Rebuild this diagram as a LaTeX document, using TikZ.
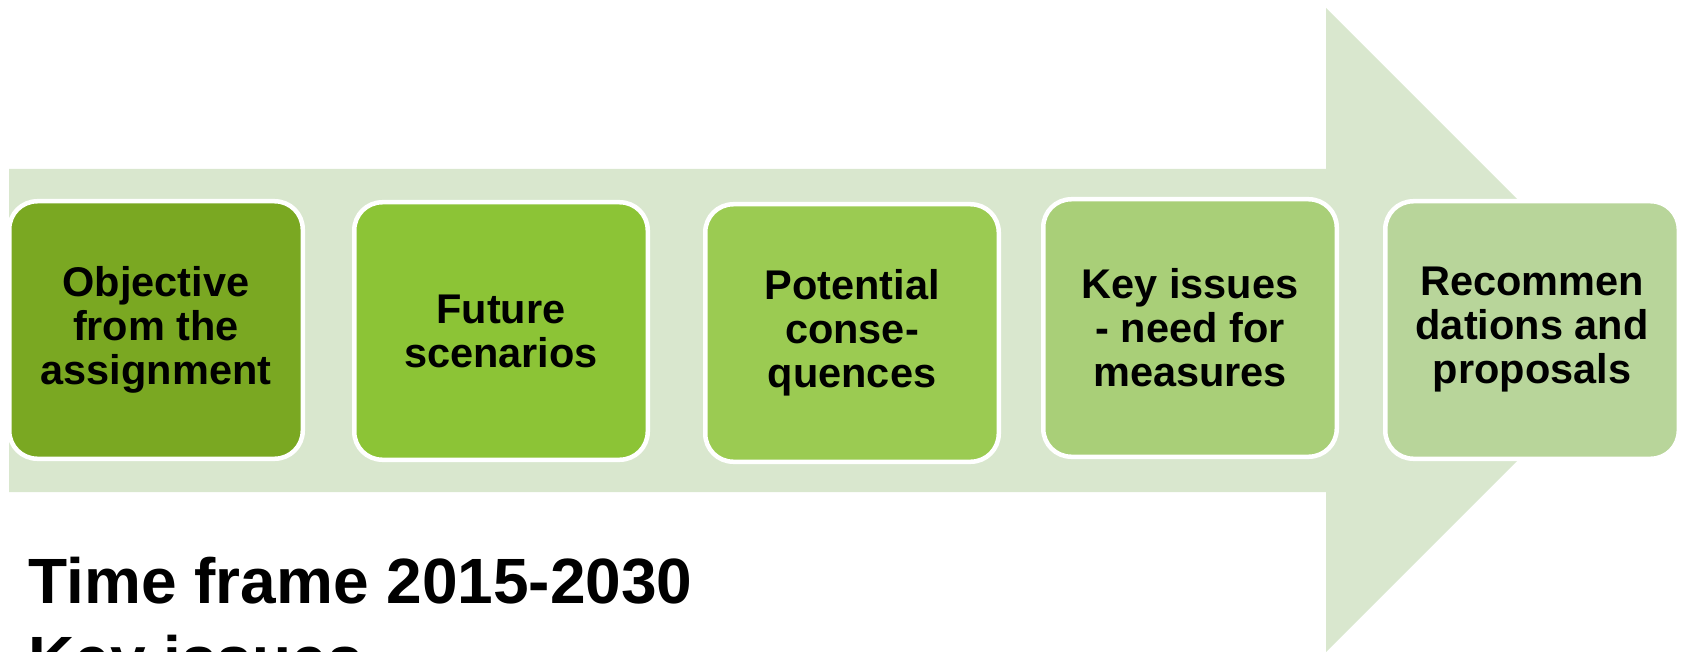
\documentclass[tikz,border=0pt]{standalone}
\usepackage{fontspec}
\setmainfont{Liberation Sans}
\usepackage{xcolor}
\usepackage{tikz}
\usetikzlibrary{calc,arrows.meta}

\definecolor{arrowbg}{RGB}{217,231,206}
\definecolor{stepA}{RGB}{122,168,34}
\definecolor{stepB}{RGB}{140,196,54}
\definecolor{stepC}{RGB}{155,203,82}
\definecolor{stepD}{RGB}{169,207,120}
\definecolor{stepE}{RGB}{184,213,154}

\tikzset{
  stagebox/.style={draw=white, line width=2.25pt, rounded corners=14pt,
    minimum width=146.75pt, minimum height=128.75pt, align=center,
    font=\bfseries\fontsize{20.75pt}{22pt}\selectfont},
}

\begin{document}
\begin{tikzpicture}[x=0.5pt,y=-0.5pt]
    \path[use as bounding box] (0,0) rectangle (1684,652);
    \clip (0,0) rectangle (1684,652);

    \fill[arrowbg] (9,169) -- (1326,169) -- (1326,8) -- (1648,330)
      -- (1326,652) -- (1326,492) -- (9,492) -- cycle;

    \node[stagebox, fill=stepA] (obj) at (156,330) {Objective\\from the\\assignment};
    \node[stagebox, fill=stepB] (fut) at (501,331) {Future\\scenarios};
    \node[stagebox, fill=stepC] (pot) at (852,333) {Potential\\conse-\\quences};
    \node[stagebox, fill=stepD] (key) at (1190,328) {Key issues\\- need for\\measures};
    \node[stagebox, fill=stepE] (rec) at (1532,330) {Recommen\\dations and\\proposals};

    \node[anchor=base west, align=left, inner sep=0pt,
      font=\bfseries\fontsize{32pt}{39pt}\selectfont] (frame) at (28,681)
      {Time frame 2015-2030\\Key issues};
  \end{tikzpicture}
\end{document}
